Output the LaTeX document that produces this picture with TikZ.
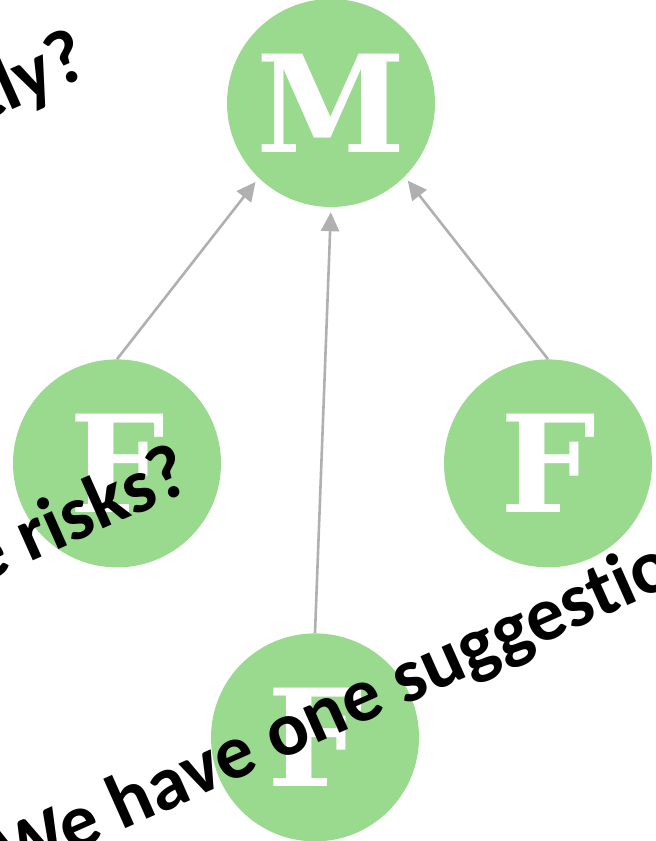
\documentclass[tikz,border=0pt]{standalone}
\usepackage{fontspec}
\setmainfont{Carlito}[Ligatures=CommonOff]
\newfontfamily\slabfont{DejaVu Serif}
\usetikzlibrary{positioning,arrows.meta}
\definecolor{leafgreen}{RGB}{154,218,143}
\definecolor{linkgray}{RGB}{176,176,176}

\begin{document}
\begin{tikzpicture}[x=1pt, y=1pt,
		c/.style={circle, fill=leafgreen, minimum size=208pt, inner sep=0pt, text=white, font=\slabfont\bfseries\fontsize{135}{135}\selectfont},
		link/.style={-{Triangle[length=19pt,width=18pt]}, line width=2.6pt, draw=linkgray, shorten >=5pt},
		q/.style={font=\bfseries\fontsize{77}{77}\selectfont, rotate=24, inner sep=0pt}]
		\useasboundingbox (0,0) rectangle (656,841);
		\clip (0,0) rectangle (656,841);

		\node[c] (m) at (331,738) {M};
		\node[c, below=152pt of m, xshift=-214pt] (lf) {F};
		\node[c, below=152pt of m, xshift=217pt] (rf) {F};
		\node[c, below=426pt of m, xshift=-16pt] (bf) {F};

		\draw[link] (lf.north) -- (m.226);
		\draw[link] (bf.north) -- (m.south);
		\draw[link] (rf.north) -- (m.315);

		% rotated text lying over the graph
		\node[q, anchor=base east] (q1) at (92,767) {tly?};
		\node[q, anchor=base east] (q2) at (194,352) {e risks?};
		\node[q, anchor=base west] (q3) at (9,-40) {We have one suggestion};
	\end{tikzpicture}
\end{document}
